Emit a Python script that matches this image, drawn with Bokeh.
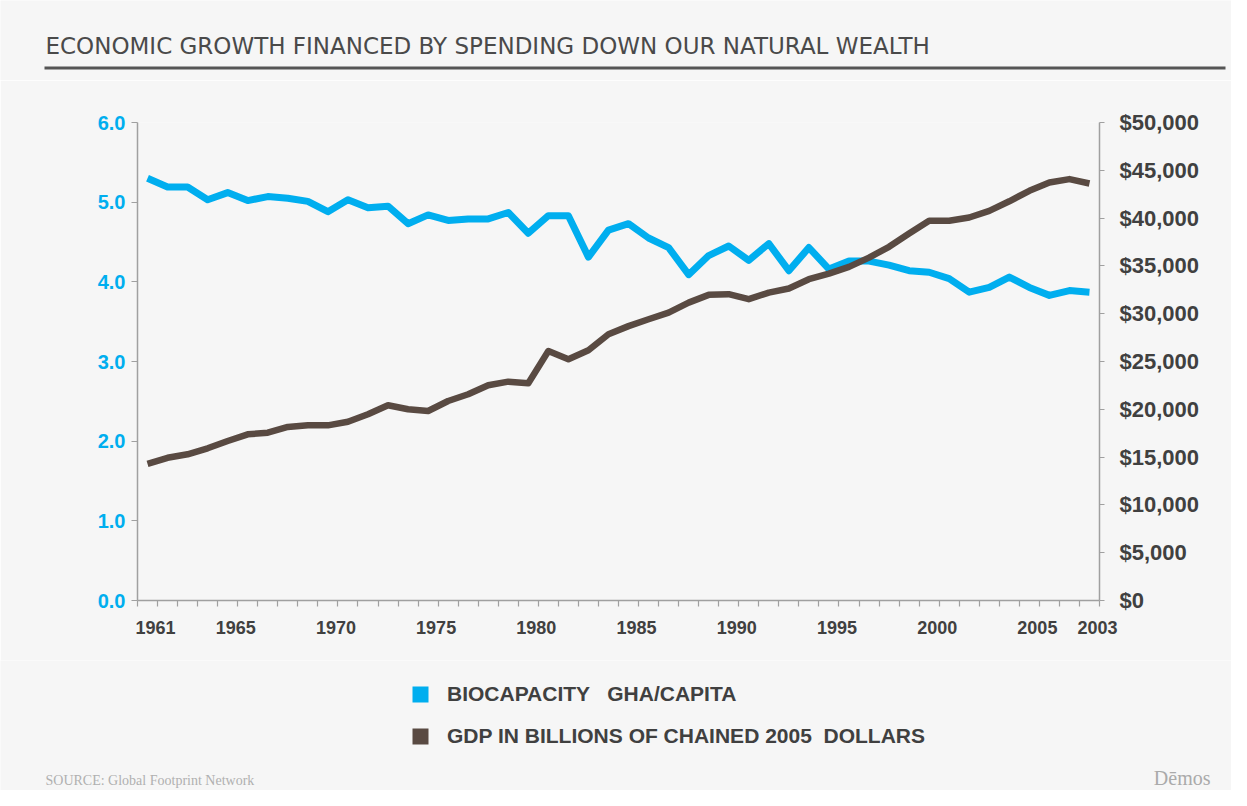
from bokeh.plotting import figure
from bokeh.layouts import column
from bokeh.models import (Range1d, LinearAxis, FixedTicker, NumeralTickFormatter,
                          CustomJSTickFormatter, Legend, LegendItem)
from bokeh.core.properties import value
from bokeh.embed import file_html
from bokeh.resources import INLINE

# ---------------- data ----------------
years = list(range(1961, 2009))
biocapacity = [5.30, 5.19, 5.19, 5.03, 5.12, 5.02, 5.07, 5.05, 5.01, 4.88,
               5.03, 4.93, 4.95, 4.73, 4.84, 4.77, 4.79, 4.79, 4.87, 4.61,
               4.83, 4.83, 4.31, 4.65, 4.73, 4.55, 4.43, 4.09, 4.33, 4.45,
               4.27, 4.48, 4.14, 4.43, 4.16, 4.26, 4.26, 4.21, 4.14, 4.12,
               4.04, 3.87, 3.93, 4.06, 3.93, 3.83, 3.89, 3.87]
gdp = [14300, 14930, 15290, 15920, 16680, 17380, 17550, 18150, 18320, 18320,
       18700, 19480, 20420, 20000, 19820, 20870, 21570, 22510, 22890, 22720,
       26100, 25230, 26180, 27850, 28700, 29420, 30120, 31160, 31970, 32040,
       31520, 32210, 32630, 33610, 34200, 34900, 35870, 37000, 38390, 39720,
       39720, 40060, 40760, 41760, 42860, 43730, 44080, 43620]
xtick_years = [1961, 1965, 1970, 1975, 1980, 1985, 1990, 1995, 2000, 2005, 2008]
xtick_labels = ["1961", "1965", "1970", "1975", "1980", "1985", "1990", "1995",
                "2000", "2005", "2003"]
left_ticks = [0, 1, 2, 3, 4, 5, 6]
right_ticks = [0, 5000, 10000, 15000, 20000, 25000, 30000, 35000, 40000, 45000, 50000]

title_text = "ECONOMIC GROWTH FINANCED BY SPENDING DOWN OUR NATURAL WEALTH"
legend_bio = "BIOCAPACITY   GHA/CAPITA"
legend_gdp = "GDP IN BILLIONS OF CHAINED 2005  DOLLARS"
source_text = "SOURCE: Global Footprint Network"
brand_text = "Dēmos"

# ---------------- styles ----------------
BG = "#f6f6f6"
BLUE = "#00aeef"
BROWN = "#594a42"
DARK = "#404040"
AXIS = "#a0a0a0"
W = 1231
TOP_H, MAIN_H, BOT_H = 80, 580, 130


def blank_fig(h, y0):
    f = figure(width=W, height=h, output_backend="svg", toolbar_location=None,
               x_range=Range1d(0, W), y_range=Range1d(y0 + h, y0),
               x_axis_location=None, y_axis_location=None, min_border=0,
               frame_align=False,
               background_fill_color=BG, border_fill_color=BG, outline_line_color=None)
    f.grid.visible = False
    return f


# ---------------- header ----------------
top = blank_fig(TOP_H, 0)
top.text(x=[45], y=[45.5], text=[title_text], text_font=value("DejaVu Sans"),
         text_font_size="23px", text_color="#4a4a4a", text_baseline="alphabetic")
top.segment(x0=[44], y0=[67.5], x1=[1225], y1=[67.5], line_width=3, line_color="#555555")

# ---------------- main chart ----------------
p = figure(width=W, height=MAIN_H, output_backend="svg", toolbar_location=None,
           x_range=Range1d(1960.5, 2008.5), y_range=Range1d(0, 6),
           min_border_left=137, min_border_right=132, min_border_top=42,
           min_border_bottom=60, frame_align=False,
           background_fill_color=BG, border_fill_color=BG, outline_line_color=None)
p.grid.visible = False
p.extra_y_ranges = {"gdp": Range1d(0, 50000)}

xa = p.xaxis[0]
xa.ticker = FixedTicker(ticks=[y + 0.4 for y in xtick_years],
                        minor_ticks=[1960.5 + i for i in range(len(years) + 1)])
xa.formatter = CustomJSTickFormatter(args=dict(labels=xtick_labels),
                                     code="return labels[index];")
xa.major_tick_line_color = None
xa.major_tick_out = 0
xa.major_tick_in = 0
xa.minor_tick_out = 6
xa.minor_tick_in = 0
xa.minor_tick_line_color = AXIS
xa.minor_tick_line_width = 1.2
xa.axis_line_color = AXIS
xa.axis_line_width = 1.5
xa.major_label_standoff = 14
xa.major_label_text_font = "Liberation Sans"
xa.major_label_text_font_style = "bold"
xa.major_label_text_font_size = "18px"
xa.major_label_text_color = DARK

ya = p.yaxis[0]
ya.ticker = FixedTicker(ticks=left_ticks)
ya.formatter = NumeralTickFormatter(format="0.0")
ya.major_tick_out = 6
ya.major_tick_in = 0
ya.minor_tick_line_color = None
ya.major_tick_line_color = AXIS
ya.axis_line_color = AXIS
ya.axis_line_width = 1.5
ya.major_label_standoff = 6
ya.major_label_text_font = "Liberation Sans"
ya.major_label_text_font_style = "bold"
ya.major_label_text_font_size = "20px"
ya.major_label_text_color = BLUE

ra = LinearAxis(y_range_name="gdp", ticker=FixedTicker(ticks=right_ticks),
                formatter=NumeralTickFormatter(format="$0,0"))
ra.major_tick_out = 5
ra.major_tick_in = 0
ra.minor_tick_line_color = None
ra.major_tick_line_color = AXIS
ra.axis_line_color = AXIS
ra.axis_line_width = 1.5
ra.major_label_standoff = 15
ra.major_label_text_font = "Liberation Sans"
ra.major_label_text_font_style = "bold"
ra.major_label_text_font_size = "22px"
ra.major_label_text_color = DARK
p.add_layout(ra, "right")

p.line(years, biocapacity, line_color=BLUE, line_width=7, line_join="round")
p.line(years, gdp, line_color=BROWN, line_width=6.5, line_join="round", y_range_name="gdp")

# ---------------- footer with legend ----------------
bot = blank_fig(BOT_H, TOP_H + MAIN_H)
# swatch renderers for the legend (kept outside the visible range)
q1 = bot.quad(left=[-60], right=[-50], top=[600], bottom=[590], fill_color=BLUE, line_color=None)
q2 = bot.quad(left=[-60], right=[-50], top=[600], bottom=[590], fill_color=BROWN, line_color=None)
legend = Legend(items=[LegendItem(label=legend_bio, renderers=[q1]),
                       LegendItem(label=legend_gdp, renderers=[q2])],
                location=(410, 42), orientation="vertical",
                glyph_width=20, glyph_height=20, label_height=20, spacing=18,
                label_standoff=17, padding=0, margin=0,
                border_line_color=None, background_fill_alpha=0,
                label_text_font="Liberation Sans", label_text_font_style="bold",
                label_text_font_size="21px", label_text_color=DARK)
bot.add_layout(legend, "center")
bot.text(x=[45], y=[780], text=[source_text], text_font=value("Liberation Serif"),
         text_font_size="14px", text_color="#b0b0b0", text_baseline="alphabetic")
bot.text(x=[1210], y=[777], text=[brand_text], text_font=value("Liberation Serif"),
         text_font_size="20px", text_color="#aaaaaa", text_align="right",
         text_baseline="alphabetic")

layout = column(top, p, bot, spacing=0)
open("out.html", "w").write(file_html(layout, INLINE))
